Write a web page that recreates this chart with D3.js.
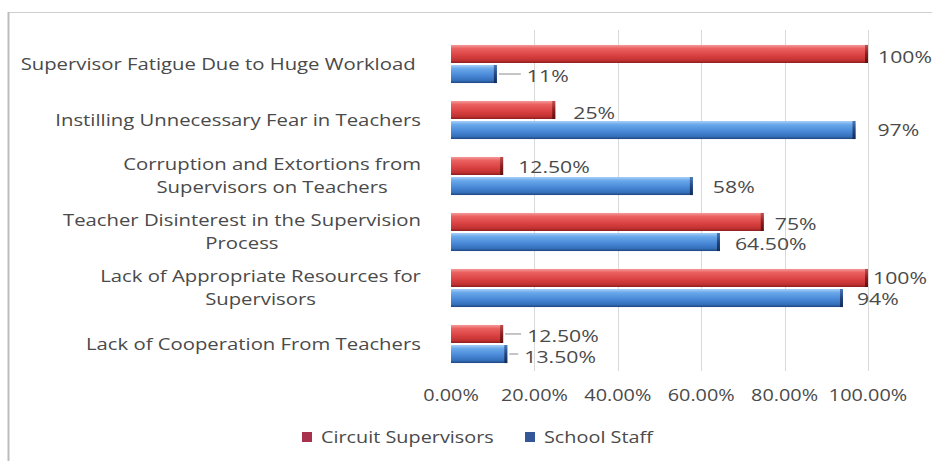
<!DOCTYPE html>
<html>
<head>
  <title>Supervision Challenges</title>
  <script src="https://d3js.org/d3.v7.min.js"></script>
  <style>
    body { margin: 0; background: #fff; }
    text { font-family: "Open Sans", sans-serif; fill: #4a4a4a; }
  </style>
</head>
<body>
  <svg id="chart" width="932" height="461"></svg>

  <script>
    // Chart data
    var categories = [
      "Supervisor Fatigue Due to Huge Workload",
      "Instilling Unnecessary Fear in Teachers",
      "Corruption and Extortions from Supervisors on Teachers",
      "Teacher Disinterest in the Supervision Process",
      "Lack of Appropriate Resources for Supervisors",
      "Lack of Cooperation From Teachers"
    ];
    var categoryLines = [
      ["Supervisor Fatigue Due to Huge Workload\u00a0"],
      ["Instilling Unnecessary Fear in Teachers"],
      ["Corruption and Extortions from", "Supervisors on Teachers"],
      ["Teacher Disinterest in the Supervision", "Process"],
      ["Lack of Appropriate Resources for", "Supervisors"],
      ["Lack of Cooperation From Teachers"]
    ];
    var seriesNames = ["Circuit Supervisors", "School Staff"];
    var circuitSupervisors = [1.00, 0.25, 0.125, 0.75, 1.00, 0.125];
    var schoolStaff = [0.11, 0.97, 0.58, 0.645, 0.94, 0.135];
    var circuitLabels = ["100%", "25%", "12.50%", "75%", "100%", "12.50%"];
    var staffLabels = ["11%", "97%", "58%", "64.50%", "94%", "13.50%"];
    var tickValues = [0, 0.2, 0.4, 0.6, 0.8, 1.0];
    var tickLabels = ["0.00%", "20.00%", "40.00%", "60.00%", "80.00%", "100.00%"];

    // Label placement (offsets from bar end, Excel-style): [dx, dy, leader]
    var circuitOffsets = [[10, 3, 0], [18, 3, 0], [15, 1, 0], [11, 2, 0], [5, 0, 0], [24, 2, 1]];
    var staffOffsets = [[30, 2, 1], [22, 0, 0], [20, 1, 0], [15, 2, 0], [14, 1, 0], [17, 3, 1]];

    // horizontal stretch of the text (the source picture is widened)
    var SX_CAT = 1.23, SX_LBL = 1.37, SX_LEG = 1.24, SX_TICK = 1.28;

    var svg = d3.select("#chart");

    // frame
    svg.append("line").attr("x1", 8).attr("x2", 932).attr("y1", 12.5).attr("y2", 12.5)
      .attr("stroke", "#cfcfcf");
    svg.append("line").attr("x1", 8.5).attr("x2", 8.5).attr("y1", 12).attr("y2", 461)
      .attr("stroke", "#bdbdbd").attr("stroke-width", 2);

    var x = d3.scaleLinear().domain([0, 1]).range([451, 868]);
    var y = d3.scaleBand().domain(categories).range([36, 372])
      .paddingInner(0.32).paddingOuter(0.16);
    var ySub = d3.scaleBand().domain(seriesNames).range([0, y.bandwidth()]).paddingInner(0.1);

    // gradients
    var defs = svg.append("defs");
    function grad(id, stops) {
      var g = defs.append("linearGradient").attr("id", id)
        .attr("x1", 0).attr("y1", 0).attr("x2", 0).attr("y2", 1);
      stops.forEach(function(s) {
        g.append("stop").attr("offset", s[0]).attr("stop-color", s[1]);
      });
    }
    grad("gRed", [[0, "#f49a9a"], [0.2, "#ea6060"], [0.55, "#dc4444"], [0.85, "#c23232"], [1, "#8e1e1e"]]);
    grad("gBlue", [[0, "#a8d0f6"], [0.2, "#6aa8ea"], [0.55, "#4a8ad8"], [0.85, "#3670bc"], [1, "#1f4680"]]);
    grad("gRedEnd", [[0, "#c05050"], [0.5, "#8a1e1e"], [1, "#5e1010"]]);
    grad("gBlueEnd", [[0, "#4a78b8"], [0.5, "#24467e"], [1, "#142c56"]]);

    // gridlines
    svg.append("g").selectAll("line")
      .data(tickValues.slice(1))
      .enter().append("line")
      .attr("x1", function(d) { return Math.round(x(d)) + 0.5; })
      .attr("x2", function(d) { return Math.round(x(d)) + 0.5; })
      .attr("y1", 30).attr("y2", 371)
      .attr("stroke", "#d9d9d9");

    // x axis labels
    svg.append("g").selectAll("text")
      .data(tickValues)
      .enter().append("text")
      .attr("transform", function(d) { return "translate(" + x(d) + ",401) scale(" + SX_TICK + ",1)"; })
      .attr("text-anchor", "middle")
      .attr("font-size", "15.5px")
      .text(function(d, i) { return tickLabels[i]; });

    // rows
    var rows = categories.map(function(c, i) {
      return { cat: c, lines: categoryLines[i], vals: [circuitSupervisors[i], schoolStaff[i]],
               labels: [circuitLabels[i], staffLabels[i]], offs: [circuitOffsets[i], staffOffsets[i]] };
    });

    var fills = ["url(#gRed)", "url(#gBlue)"];
    var ends = ["url(#gRedEnd)", "url(#gBlueEnd)"];

    var group = svg.append("g").selectAll("g")
      .data(rows)
      .enter().append("g")
      .attr("transform", function(d) { return "translate(0," + y(d.cat) + ")"; });

    seriesNames.forEach(function(s, k) {
      group.append("rect")
        .attr("x", x(0))
        .attr("y", ySub(s))
        .attr("width", function(d) { return x(d.vals[k]) - x(0); })
        .attr("height", ySub.bandwidth())
        .attr("fill", fills[k]);
      group.append("rect")
        .attr("x", function(d) { return x(d.vals[k]) - 3; })
        .attr("y", ySub(s))
        .attr("width", 3)
        .attr("height", ySub.bandwidth())
        .attr("fill", ends[k]);

      // leader lines
      group.filter(function(d) { return d.offs[k][2]; })
        .append("line")
        .attr("x1", function(d) { return x(d.vals[k]) + 2; })
        .attr("x2", function(d) { return x(d.vals[k]) + d.offs[k][0] - 6; })
        .attr("y1", ySub(s) + ySub.bandwidth() / 2)
        .attr("y2", ySub(s) + ySub.bandwidth() / 2)
        .attr("stroke", "#8c8c8c");

      // data labels
      group.append("text")
        .attr("transform", function(d) {
          var lx = x(d.vals[k]) + d.offs[k][0];
          var ly = ySub(s) + ySub.bandwidth() / 2 + d.offs[k][1];
          return "translate(" + lx + "," + ly + ") scale(" + SX_LBL + ",1)";
        })
        .attr("dy", "0.36em")
        .attr("font-size", "15.5px")
        .text(function(d) { return d.labels[k]; });
    });

    // category labels (wrapped lines centred, block right-aligned)
    var lineH = 23;
    group.each(function(d) {
      var g = d3.select(this);
      var n = d.lines.length;
      var cy = y.bandwidth() / 2;
      var t = g.append("text")
        .attr("font-size", "16.5px")
        .attr("text-anchor", "middle");
      d.lines.forEach(function(line, j) {
        t.append("tspan")
          .attr("x", 0)
          .attr("y", (j - (n - 1) / 2) * lineH)
          .attr("dy", "0.36em")
          .text(line);
      });
      // measure and place the block so its right edge sits at 421
      var w = 0;
      t.selectAll("tspan").each(function() { w = Math.max(w, this.getComputedTextLength()); });
      var cx = 421 - (w * SX_CAT) / 2;
      t.attr("transform", "translate(" + cx + "," + cy + ") scale(" + SX_CAT + ",1)");
    });

    // legend
    var legendColors = ["#a8324e", "#34579a"];
    var legendX = [302, 525];
    var legend = svg.append("g").selectAll("g")
      .data(seriesNames)
      .enter().append("g")
      .attr("transform", function(d, i) { return "translate(" + legendX[i] + ",432)"; });
    legend.append("rect")
      .attr("width", 10).attr("height", 10)
      .attr("fill", function(d, i) { return legendColors[i]; });
    legend.append("text")
      .attr("transform", "translate(19,5) scale(" + SX_LEG + ",1)")
      .attr("dy", "0.36em")
      .attr("font-size", "16px")
      .text(function(d) { return d; });
  </script>
</body>
</html>
